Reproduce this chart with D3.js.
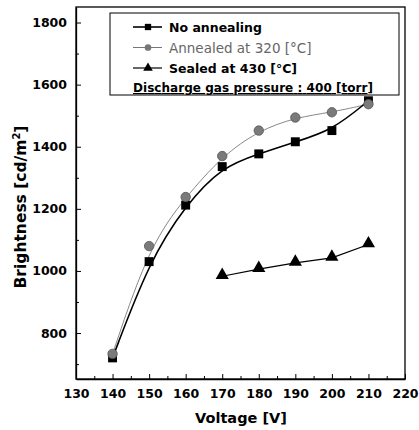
<!DOCTYPE html>
<html>
<head>
<meta charset="utf-8">
<script src="https://cdn.jsdelivr.net/npm/d3@7"></script>
<style>
  body { margin: 0; background: #fff; }
  text { font-family: "DejaVu Sans", Verdana, sans-serif; }
</style>
</head>
<body>
<div id="chartDiv"></div>
<script>
// data
var voltage = [140, 150, 160, 170, 180, 190, 200, 210];
var noAnnealing = [720, 1030, 1212, 1336, 1377, 1416, 1452, 1548];
var annealed320 = [733, 1080, 1238, 1370, 1452, 1494, 1511, 1537];
var sealedVoltage = [170, 180, 190, 200, 210];
var sealed430 = [983, 1006, 1026, 1042, 1085];
var xTicks = [130, 140, 150, 160, 170, 180, 190, 200, 210, 220];
var yTicks = [800, 1000, 1200, 1400, 1600, 1800];

var width = 419, height = 430;
var padLeft = 76, padRight = 405, padTop = 7, padBottom = 379;

var x = d3.scaleLinear().domain([130, 220]).range([padLeft, padRight]);
var y = d3.scaleLinear().domain([652, 1850]).range([padBottom, padTop]);

var svg = d3.select("#chartDiv").append("svg")
    .attr("width", width).attr("height", height);

// frame
svg.append("rect")
   .attr("x", padLeft).attr("y", padTop)
   .attr("width", padRight - padLeft).attr("height", padBottom - padTop)
   .attr("fill", "none").attr("stroke", "#000").attr("stroke-width", 1.3);

// axes, ticks pointing in
svg.append("g").attr("transform", "translate(0," + padBottom + ")")
    .call(d3.axisBottom(x).tickValues(xTicks).tickFormat(d3.format("d"))
          .tickSizeInner(-5).tickSizeOuter(0).tickPadding(10));
svg.append("g").attr("transform", "translate(0," + padBottom + ")")
    .call(d3.axisBottom(x).tickValues(d3.range(135, 220, 10)).tickSize(-3).tickFormat(""))
    .select(".domain").remove();

svg.append("g").attr("transform", "translate(" + padLeft + ",0)")
    .call(d3.axisLeft(y).tickValues(yTicks).tickFormat(d3.format("d"))
          .tickSizeInner(-5).tickSizeOuter(0).tickPadding(9));
svg.append("g").attr("transform", "translate(" + padLeft + ",0)")
    .call(d3.axisLeft(y).tickValues(d3.range(700, 1850, 200)).tickSize(-3).tickFormat(""))
    .select(".domain").remove();

svg.selectAll(".tick text")
   .attr("font-size", 12.5).attr("font-weight", "bold")
   .attr("font-family", "DejaVu Sans, Verdana, sans-serif").attr("fill", "#000");
svg.selectAll(".domain").attr("stroke-width", 1.3);

// axis titles
svg.append("text")
   .attr("x", 241).attr("y", 423)
   .attr("text-anchor", "middle").attr("font-size", 14.5).attr("font-weight", "bold")
   .text("Voltage [V]");

var yl = svg.append("text")
   .attr("transform", "translate(26,207) rotate(-90)")
   .attr("text-anchor", "middle").attr("font-size", 15.5).attr("font-weight", "bold");
yl.append("tspan").text("Brightness [cd/m");
yl.append("tspan").attr("dy", -6).attr("font-size", 10).text("2");
yl.append("tspan").attr("dy", 6).text("]");

// lines (B-spline like the original plot)
var smooth = d3.line().x(function(d) { return x(d[0]); }).y(function(d) { return y(d[1]); })
    .curve(d3.curveBasis);
var straight = d3.line().x(function(d) { return x(d[0]); }).y(function(d) { return y(d[1]); });

var dNo = voltage.map(function(v, i) { return [v, noAnnealing[i]]; });
var dAn = voltage.map(function(v, i) { return [v, annealed320[i]]; });
var dSe = sealedVoltage.map(function(v, i) { return [v, sealed430[i]]; });

svg.append("path").attr("d", smooth(dAn))
   .attr("fill", "none").attr("stroke", "#888").attr("stroke-width", 1);
svg.append("path").attr("d", smooth(dNo))
   .attr("fill", "none").attr("stroke", "#000").attr("stroke-width", 1.6);
svg.append("path").attr("d", straight(dSe))
   .attr("fill", "none").attr("stroke", "#000").attr("stroke-width", 1.2);

var sq = d3.symbol().type(d3.symbolSquare).size(80);
var ci = d3.symbol().type(d3.symbolCircle).size(70);
var tr = d3.symbol().type(d3.symbolTriangle).size(75);

svg.selectAll(".pNo").data(dNo).enter().append("path")
   .attr("d", sq).attr("fill", "#000")
   .attr("transform", function(d) { return "translate(" + x(d[0]) + "," + y(d[1]) + ")"; });
svg.selectAll(".pAn").data(dAn).enter().append("path")
   .attr("d", ci).attr("fill", "#7a7a7a").attr("stroke", "#555").attr("stroke-width", 0.8)
   .attr("transform", function(d) { return "translate(" + x(d[0]) + "," + y(d[1]) + ")"; });
svg.selectAll(".pSe").data(dSe).enter().append("path")
   .attr("d", tr).attr("fill", "#000")
   .attr("transform", function(d) { return "translate(" + x(d[0]) + "," + (y(d[1]) - 1) + ")"; });

// legend
var lg = svg.append("g");
lg.append("rect").attr("x", 110).attr("y", 13).attr("width", 289).attr("height", 82)
  .attr("fill", "#fff").attr("stroke", "#000").attr("stroke-width", 1);

var items = [
  { label: "No annealing", sym: d3.symbol().type(d3.symbolSquare).size(40), col: "#000", w: 1.6, fw: "bold", tc: "#000", fs: 12.5 },
  { label: "Annealed at 320 [\u00B0C]", sym: d3.symbol().type(d3.symbolCircle).size(35), col: "#777", w: 1, fw: "normal", tc: "#666", fs: 13.5 },
  { label: "Sealed at 430 [\u00B0C]", sym: d3.symbol().type(d3.symbolTriangle).size(40), col: "#000", w: 1.2, fw: "bold", tc: "#000", fs: 12.5 }
];
items.forEach(function(it, i) {
  var yy = 27 + i * 20.5;
  lg.append("line").attr("x1", 133).attr("x2", 162).attr("y1", yy).attr("y2", yy)
    .attr("stroke", it.col).attr("stroke-width", it.w);
  lg.append("path").attr("d", it.sym).attr("fill", it.col)
    .attr("transform", "translate(148," + yy + ")");
  lg.append("text").attr("x", 169).attr("y", yy + 5)
    .attr("font-size", it.fs).attr("font-weight", it.fw).attr("fill", it.tc)
    .text(it.label);
});
lg.append("text").attr("x", 133).attr("y", 92)
  .attr("font-size", 12).attr("font-weight", "bold")
  .attr("text-decoration", "underline")
  .attr("textLength", 240)
  .text("Discharge gas pressure : 400 [torr]");
</script>
</body>
</html>
